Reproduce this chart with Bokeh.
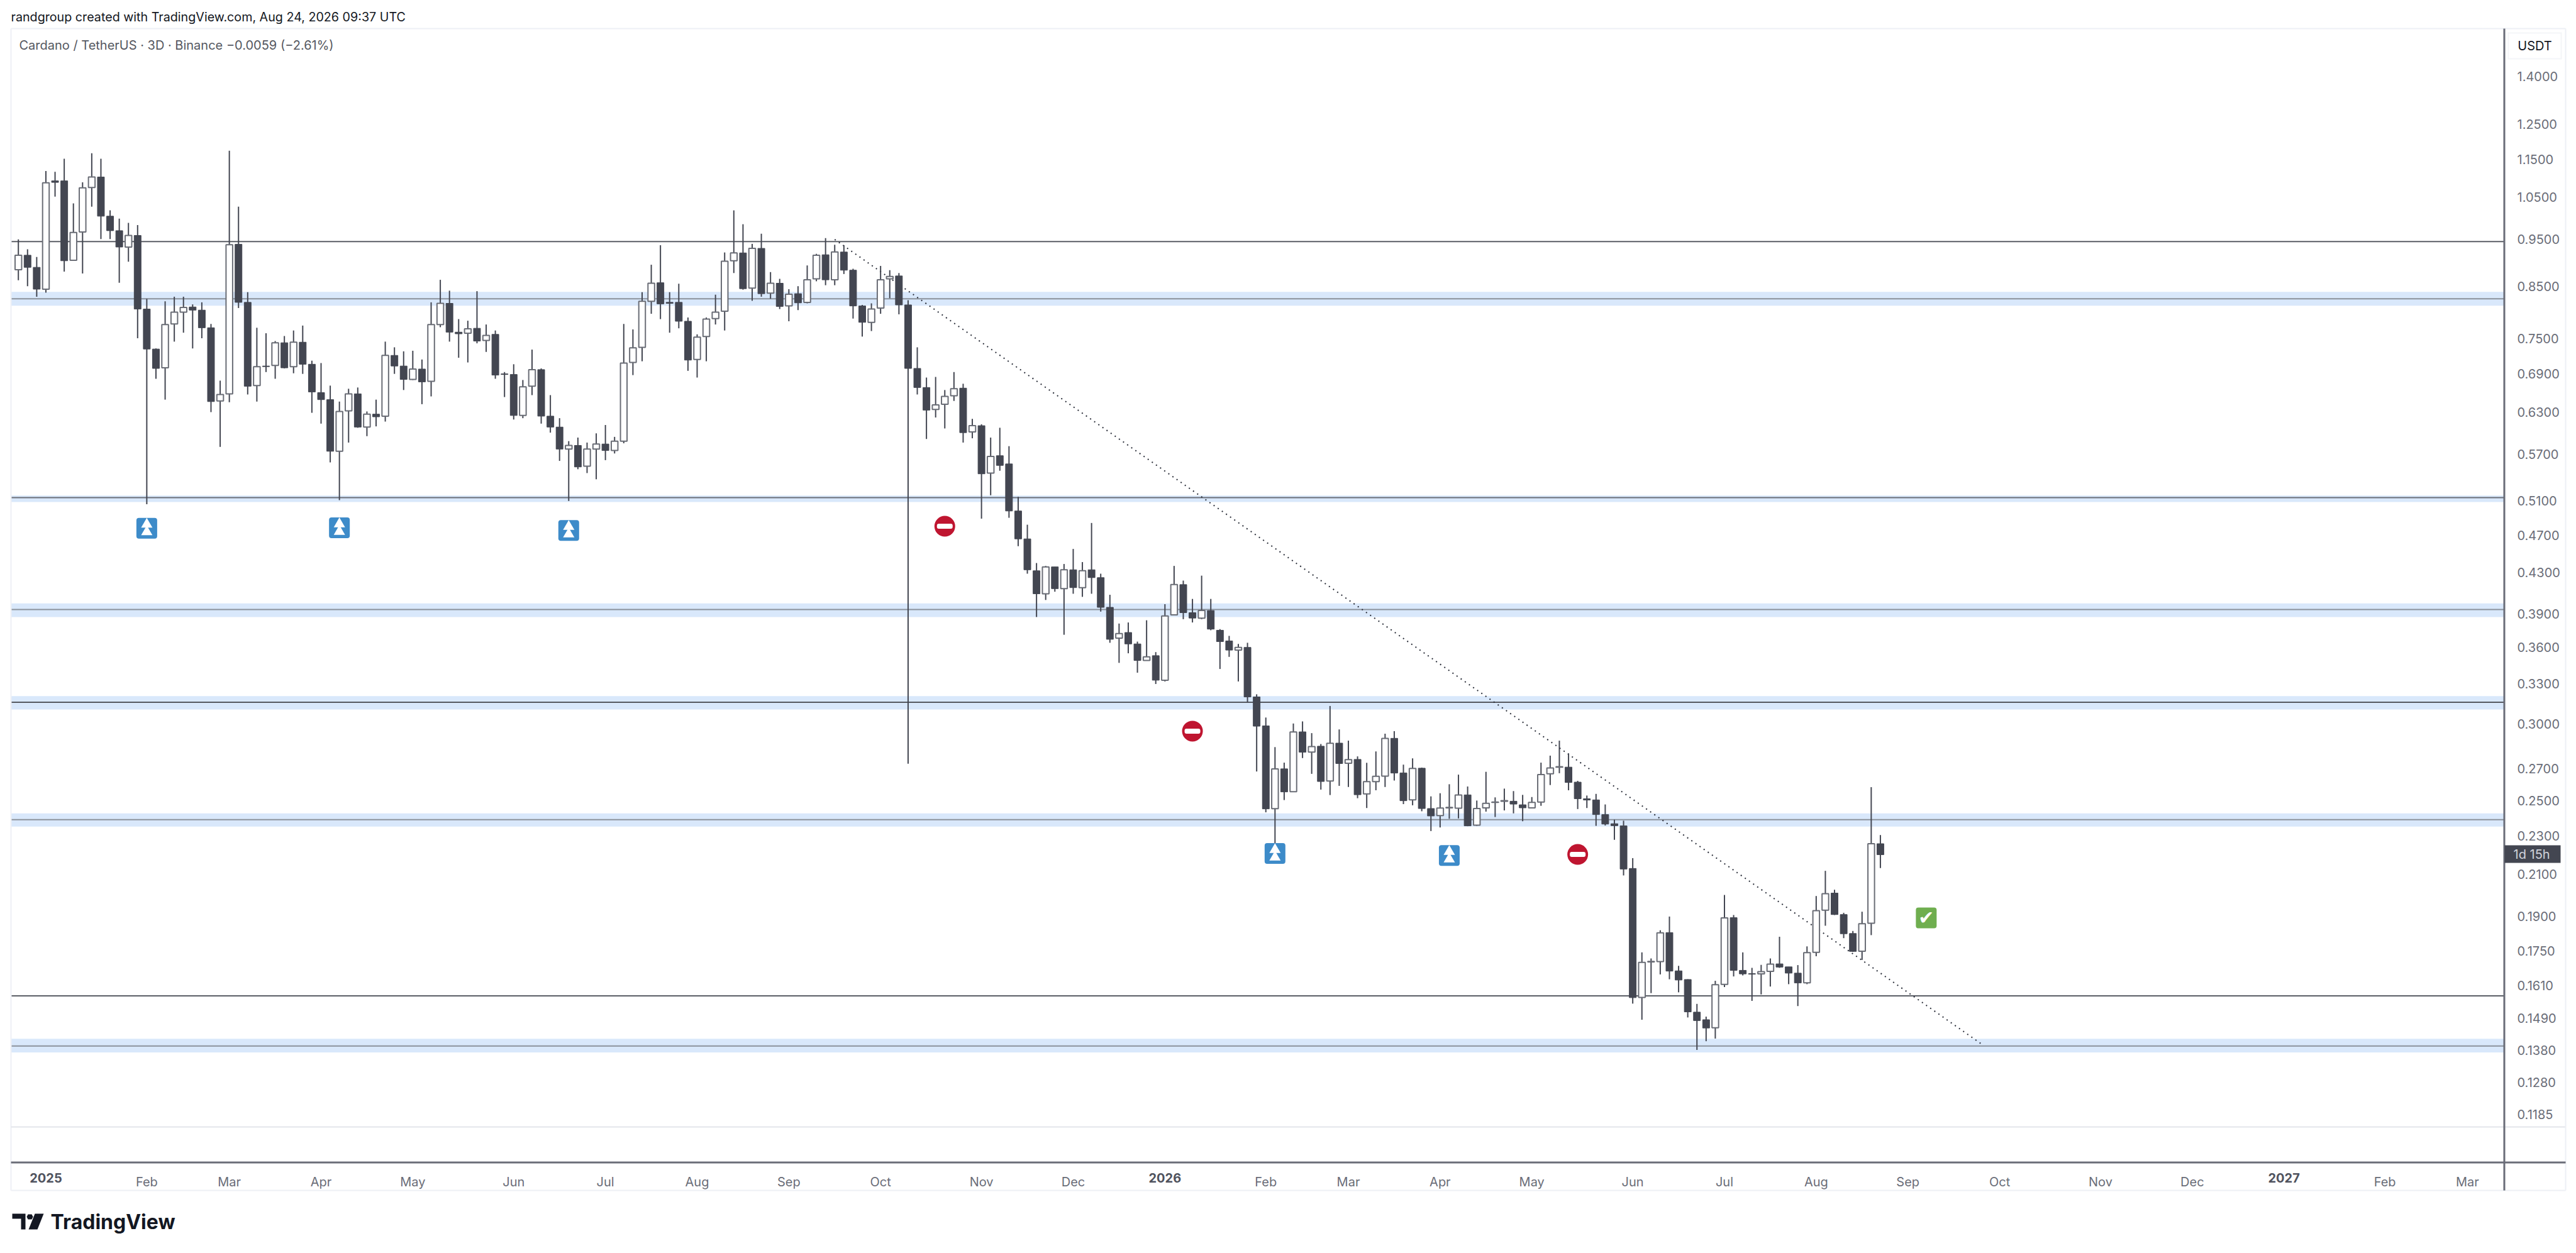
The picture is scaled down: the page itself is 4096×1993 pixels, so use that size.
from bokeh.plotting import figure
from bokeh.embed import file_html
from bokeh.resources import INLINE
from bokeh.core.properties import value
from bokeh.models import Range1d, FixedTicker, PrintfTickFormatter, Label, BoxAnnotation, PolyAnnotation
import math

opens = [.884,.915,.889,.844,1.092,1.092,.904,.967,1.075,1.102,1.004,.970,.933,.959,.805,.732,.700,.777,.799,.809,
 .803,.770,.647,.658,.939,.818,.671,.703,.704,.743,.702,.744,.706,.660,.649,.574,.632,.658,.608,.627,
 .624,.721,.703,.681,.698,.678,.776,.816,.762,.760,.769,.747,.758,.690,.689,.625,.670,.697,.624,.608,
 .577,.582,.554,.577,.584,.575,.588,.709,.735,.820,.857,.818,.818,.782,.714,.754,.787,.801,.903,.920,
 .846,.930,.836,.856,.811,.835,.818,.865,.916,.863,.922,.883,.811,.780,.807,.865,.871,.813,.699,.668,
 .634,.642,.655,.667,.601,.610,.545,.568,.557,.498,.466,.432,.409,.436,.414,.433,.415,.433,.425,.396,
 .368,.373,.363,.349,.353,.333,.389,.418,.391,.386,.393,.375,.3656,.3577,.360,.320,.2987,.2453,.2697,.2554,
 .2945,.2807,.2846,.2620,.2867,.2733,.2758,.2541,.2616,.2651,.2900,.2671,.2505,.2701,.2454,.2413,.2458,.2456,.2535,.2359,
 .2458,.2490,.2497,.2497,.2476,.2458,.2492,.2665,.2708,.2708,.2613,.2512,.2505,.2419,.2367,.2355,.2128,.1566,.1704,.1705,
 .1827,.1668,.1634,.1512,.1485,.1457,.1615,.1893,.1670,.1657,.1656,.1666,.1696,.1684,.1659,.1621,.1743,.1927,.2007,.1907,
 .1823,.1748,.1868,.2257]
closes = [.915,.889,.844,1.087,1.088,.903,.966,1.074,1.102,1.004,.970,.933,.959,.805,.732,.699,.776,.799,.808,.803,
 .770,.646,.657,.938,.818,.670,.702,.702,.743,.700,.744,.706,.661,.649,.574,.631,.658,.608,.627,.623,
 .721,.703,.681,.698,.677,.776,.816,.762,.759,.768,.746,.756,.688,.689,.625,.669,.697,.624,.608,.577,
 .582,.553,.577,.584,.575,.588,.708,.734,.820,.856,.815,.816,.782,.713,.753,.786,.799,.902,.920,.845,
 .930,.835,.856,.810,.834,.817,.863,.915,.863,.922,.883,.811,.780,.805,.863,.870,.813,.699,.668,.633,
 .641,.654,.666,.600,.610,.544,.567,.555,.498,.466,.433,.409,.436,.414,.433,.415,.432,.425,.396,.367,
 .372,.363,.349,.352,.333,.388,.418,.391,.386,.393,.376,.365,.3577,.360,.320,.2985,.2452,.2697,.2553,.2944,
 .2806,.2844,.2617,.2866,.2731,.2757,.2536,.2616,.2650,.2899,.2670,.2500,.2700,.2454,.2411,.2457,.2461,.2534,.2355,.2454,
 .2485,.2492,.2500,.2480,.2458,.2490,.2661,.2703,.2711,.2611,.2512,.2504,.2419,.2365,.2356,.2125,.1565,.1702,.1706,.1826,
 .1667,.1632,.1513,.1482,.1456,.1614,.1892,.1670,.1656,.1655,.1665,.1695,.1683,.1659,.1621,.1742,.1925,.2004,.1907,.1822,
 .1747,.1866,.2257,.2199]
highs = [.950,.928,.911,1.118,1.116,1.151,1.035,1.088,1.166,1.151,1.018,.998,.988,.983,.825,.733,.820,.829,.829,.814,
 .818,.777,.679,1.173,1.027,.838,.770,.760,.746,.755,.765,.774,.712,.708,.671,.646,.666,.668,.631,.649,
 .745,.735,.728,.729,.714,.818,.863,.841,.786,.783,.840,.776,.765,.693,.706,.680,.731,.699,.656,.621,
 .588,.593,.586,.599,.611,.594,.777,.767,.838,.8945,.937,.838,.855,.789,.758,.789,.833,.921,1.018,.985,
 .940,.963,.879,.865,.844,.850,.893,.918,.953,.938,.937,.886,.813,.816,.892,.883,.877,.822,.735,.684,
 .685,.664,.693,.674,.620,.612,.593,.607,.581,.515,.482,.440,.437,.436,.439,.455,.441,.484,.429,.408,
 .381,.382,.365,.384,.356,.399,.437,.422,.404,.427,.404,.376,.370,.363,.364,.322,.3047,.284,.2737,.3004,
 .3019,.2936,.2861,.3132,.2962,.2884,.2778,.2736,.2811,.2932,.2950,.2724,.2765,.2705,.2526,.2545,.2600,.2660,.2586,.2501,
 .2678,.2520,.2573,.2558,.2535,.2522,.2737,.2783,.2884,.2798,.2621,.2531,.2541,.2478,.2390,.2384,.2181,.1743,.1718,.1837,
 .1898,.1688,.1635,.1542,.1496,.1629,.1998,.1905,.1743,.1680,.1692,.1718,.1809,.1684,.1691,.1768,.1993,.2116,.2023,.1915,
 .1834,.1920,.2582,.2304]
lows = [.862,.850,.829,.837,1.052,.880,.903,.876,1.027,.951,.951,.857,.901,.751,.506,.682,.649,.745,.761,.733,
 .751,.630,.580,.645,.807,.657,.646,.693,.682,.699,.691,.690,.629,.613,.559,.511,.586,.607,.595,.609,
 .616,.690,.664,.680,.642,.654,.771,.745,.717,.709,.742,.727,.682,.653,.619,.621,.656,.613,.600,.561,
 .510,.550,.545,.537,.562,.571,.585,.688,.711,.796,.786,.761,.769,.695,.684,.711,.776,.765,.877,.843,
 .821,.829,.825,.805,.782,.803,.816,.860,.852,.852,.875,.787,.754,.764,.796,.826,.795,.273,.657,.591,
 .622,.606,.647,.586,.592,.489,.517,.548,.490,.458,.429,.387,.403,.411,.371,.409,.406,.409,.392,.364,
 .347,.355,.339,.349,.330,.332,.389,.385,.382,.385,.375,.342,.352,.332,.3158,.268,.2432,.2204,.2504,.2553,
 .2767,.2665,.2567,.2534,.2590,.2583,.2515,.2457,.2563,.2583,.2623,.2480,.2473,.2438,.2326,.2346,.2395,.2397,.2353,.2355,
 .2436,.2405,.2443,.2426,.2381,.2457,.2470,.2595,.2669,.2563,.2451,.2457,.2355,.2357,.2278,.2093,.1543,.1485,.1582,.1654,
 .1635,.1585,.1493,.1382,.1411,.1420,.1605,.1646,.1650,.1553,.1577,.1607,.1680,.1616,.1534,.1616,.1727,.1857,.1905,.1803,
 .1745,.1712,.1816,.2130]

price_ticks = [1.40,1.25,1.15,1.05,.95,.85,.75,.69,.63,.57,.51,.47,.43,.39,.36,.33,.30,.27,.25,.23,.21,.19,.175,.161,.149,.138,.128,.1185]
month_ticks = [14,23,33,43,54,64,74,84,94,105,115,136,145,155,165,176,186,196,206,216,227,237,258,267]
month_labels = ["Feb","Mar","Apr","May","Jun","Jul","Aug","Sep","Oct","Nov","Dec","Feb","Mar","Apr","May","Jun","Jul","Aug","Sep","Oct","Nov","Dec","Feb","Mar"]
year_ticks = [3,125,247]
year_labels = ["2025","2026","2027"]

band_tops = [.8385,.5166,.3997,.3206,.2426,.1419]
band_bottoms = [.8115,.5087,.387,.3106,.2351,.1374]
band_lines = [.825,.514,.394,.316,.239,.1395]
band_line_colors = ["#8b929b","#6b6f78","#8b929b","#55585f","#8b929b","#8b929b"]
plain_lines = [.945,.1572]
trend_x = [89,214]
trend_y = [.950,.1402]
buy_x = [14,35,60,137,156]
buy_y = [.4780,.4785,.4755,.2205,.2195]
stop_x = [101,128,170]
stop_y = [.4802,.2950,.2200]
ok_x = [208]
ok_y = [.1892]

# the plotting frame fills the page, pane edges are kept apart from the view range
VX0, VX1, VY0, VY1 = -1.968, 278.87, .0852, 1.6777
X0, X1 = -0.802, 270.99
DARK, EDGE = "#434651", "#6a6d76"
AX = "#6a6d78"
LIGHT = "#eef0f5"
FONT = "Inter"

idx = list(range(len(opens)))
up = [i for i in idx if closes[i] >= opens[i]]
dn = [i for i in idx if closes[i] < opens[i]]

p = figure(width=4096, height=1993, y_axis_type="log", y_axis_location="right",
           x_range=Range1d(VX0, VX1), y_range=Range1d(VY0, VY1),
           output_backend="svg", toolbar_location=None,
           min_border_left=0, min_border_top=0, min_border_bottom=0, min_border_right=0)
p.grid.visible = False
p.background_fill_color = "white"
p.outline_line_color = None

ax = p.yaxis[0]
ax.ticker = FixedTicker(ticks=price_ticks, minor_ticks=[])
ax.formatter = PrintfTickFormatter(format="%.4f")
ax.major_tick_line_color = None
ax.minor_tick_line_color = None
ax.axis_line_color = None
ax.major_label_standoff = -100
ax.major_label_text_font = FONT
ax.major_label_text_font_size = "20px"
ax.major_label_text_color = "#6a6d78"

bx = p.xaxis[0]
bx.ticker = FixedTicker(ticks=month_ticks + year_ticks, minor_ticks=[])
ov = {t: l for t, l in zip(month_ticks, month_labels)}
ov.update({t: "" for t in year_ticks})
bx.major_label_overrides = ov
bx.major_tick_line_color = None
bx.minor_tick_line_color = None
bx.axis_line_color = None
bx.major_label_standoff = -132
bx.major_label_text_font = FONT
bx.major_label_text_font_size = "20px"
bx.major_label_text_color = "#6a6d78"

n = len(band_tops)
p.quad(left=[X0]*n, right=[X1]*n, top=band_tops, bottom=band_bottoms, fill_color="#d9e8fb", line_color=None)
p.segment(x0=[X0]*n, x1=[X1]*n, y0=band_lines, y1=band_lines, line_color=band_line_colors, line_width=2)
m = len(plain_lines)
p.segment(x0=[X0]*m, x1=[X1]*m, y0=plain_lines, y1=plain_lines, line_color="#5b5e66", line_width=2)

p.line(trend_x, trend_y, line_color="#2a2e39", line_width=2, line_dash="2 6")

p.segment(x0=idx, x1=idx, y0=lows, y1=highs, line_color=DARK, line_width=2)
p.vbar(x=dn, width=0.75, top=[opens[i] for i in dn], bottom=[closes[i] for i in dn],
       fill_color=DARK, line_color=DARK, line_width=1)
p.vbar(x=up, width=0.72, top=[closes[i] for i in up], bottom=[opens[i] for i in up],
       fill_color="white", line_color=EDGE, line_width=2)

# event badges
PX = 1.0 / 668.6
p.rect(buy_x, buy_y, width=33, height=33, width_units="screen", height_units="screen",
       fill_color="#3d8bc9", line_color=None, border_radius=4)
p.scatter(buy_x, [v*math.exp(6*PX) for v in buy_y], marker="triangle", size=18, fill_color="white", line_color=None)
p.scatter(buy_x, [v*math.exp(-6*PX) for v in buy_y], marker="triangle", size=18, fill_color="white", line_color=None)
p.scatter(stop_x, stop_y, marker="circle", size=33, fill_color="#bf1530", line_color=None)
p.rect(stop_x, stop_y, width=25, height=8, width_units="screen", height_units="screen",
       fill_color="white", line_color=None, border_radius=3)
p.rect(ok_x, ok_y, width=33, height=33, width_units="screen", height_units="screen",
       fill_color="#6fae4f", line_color=None, border_radius=4)
p.text(ok_x, ok_y, text=["\u2714"], text_align="center", text_baseline="middle",
       text_color="white", text_font=value("DejaVu Sans"), text_font_size="30px")

# chrome
def box(l, r, t, b, c):
    p.add_layout(BoxAnnotation(left=l, right=r, top=t, bottom=b,
                               left_units="canvas", right_units="canvas", top_units="canvas", bottom_units="canvas",
                               fill_color=c, fill_alpha=1, line_color=None, level="overlay"))

def txt(x, y, t, size, color, style="normal", align="left", xu="canvas"):
    p.add_layout(Label(x=x, y=y, x_units=xu, y_units="canvas", text=t, level="overlay",
                       text_font=FONT, text_font_size=size, text_color=color,
                       text_font_style=style, text_align=align, text_baseline="middle"))

box(16, 18, 45, 1893, LIGHT)
box(17, 4079, 44, 46, LIGHT)
box(17, 4079, 1791, 1793, "#e3e5eb")
box(17, 4079, 1892, 1894, LIGHT)
box(4078, 4080, 45, 1893, LIGHT)
box(3980, 3983, 45, 1893, AX)
box(17, 4079, 1847, 1850, AX)
box(3987, 4073, 51, 94, "#f4f5f8")
box(3989, 4071, 53, 92, "white")
box(3982, 4071, 1344, 1372, DARK)

txt(17, 26, "randgroup created with TradingView.com, Aug 24, 2026 09:37 UTC", "19.7px", "#131722")
txt(30, 71, "Cardano / TetherUS \u00b7 3D \u00b7 Binance  \u22120.0059 (\u22122.61%)", "20px", "#555861")
txt(4030, 72, "USDT", "20px", "#131722", align="center")
txt(3996, 1358, "1d 15h", "20px", "#d1d4dc")
for t, l in zip(year_ticks, year_labels):
    txt(t, 1873, l, "20px", "#50535e", style="bold", align="center", xu="data")
txt(80, 1943, "TradingView", "32px", "#131722", style="bold")

for xs, ys in [([19,40,40,33,33,19],[1930,1930,1955,1955,1938,1938]),
               ([55,69,59,45],[1930,1930,1955,1955]),
               ([44,50,52,50,44,42],[1931,1931,1935,1939,1939,1935])]:
    p.add_layout(PolyAnnotation(xs=xs, ys=ys, xs_units="canvas", ys_units="canvas", level="overlay",
                                fill_color="#131722", fill_alpha=1, line_color=None))

open("out.html", "w").write(file_html(p, INLINE))
